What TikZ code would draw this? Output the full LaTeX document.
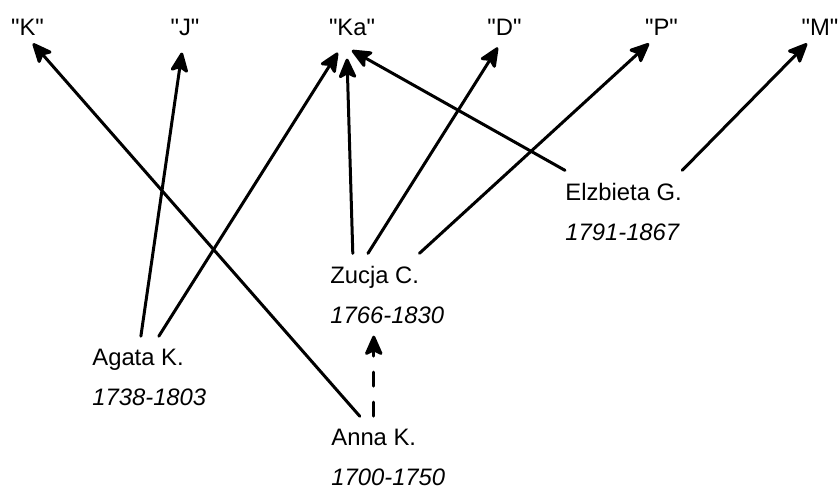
\documentclass[tikz,border=0pt]{standalone}
\usepackage{fontspec}
\setmainfont{Liberation Sans}
\usetikzlibrary{arrows.meta}

\tikzset{
  txt/.style={inner xsep=0pt, inner ysep=6pt, font=\fontsize{11.9}{14}\selectfont},
  lbl/.style={txt, inner ysep=4pt, anchor=base},
  person/.style={txt, anchor=base west},
  years/.style={person, font=\fontsize{11.9}{14}\selectfont\itshape},
  arr/.style={-{Stealth[length=11.5pt,width=10pt,inset=2.5pt,round]}, line width=1.5pt, line cap=round},
}

\begin{document}
\begin{tikzpicture}[x=0.5pt,y=-0.5pt]
\useasboundingbox (0,0) rectangle (840,489);

\foreach \n/\t/\x in {k/K/27.5, j/J/185, ka/Ka/352, d/D/504.5, p/P/661.5, m/M/820}
  \node[lbl] (\n) at (\x,35) {\textquotedbl\t\textquotedbl};

\foreach \n/\name/\yr/\x/\y in {agata/Agata K./1738-1803/92/365, zucja/Zucja C./1766-1830/330/283,
    elzbieta/Elzbieta G./1791-1867/565/200, anna/Anna K./1700-1750/331/445}{
  \node[person] (\n) at (\x,\y) {\name};
  \node[years] (\n-yr) at (\x,\y+40) {\yr};
}

\draw[arr] (anna.124) -- (k.-72);
\draw[arr, shorten >=4.5pt] (agata.83) -- (j.-96);
\draw[arr, shorten >=5.3pt] (agata.48) -- (ka.-117);
\draw[arr, shorten >=7.5pt] (zucja.133) -- (ka.-108);
\draw[arr, shorten >=6.9pt] (elzbieta.north west) -- (ka.-126);
\draw[arr, shorten >=2.4pt] (zucja.106) -- (d.-104);
\draw[arr] (zucja.north east) -- (p.-127);
\draw[arr] (elzbieta.north east) -- (m.-128);
\draw[arr, dash pattern=on 7pt off 8pt] (anna.north) -- (anna.north |- zucja-yr.south);

\end{tikzpicture}
\end{document}
